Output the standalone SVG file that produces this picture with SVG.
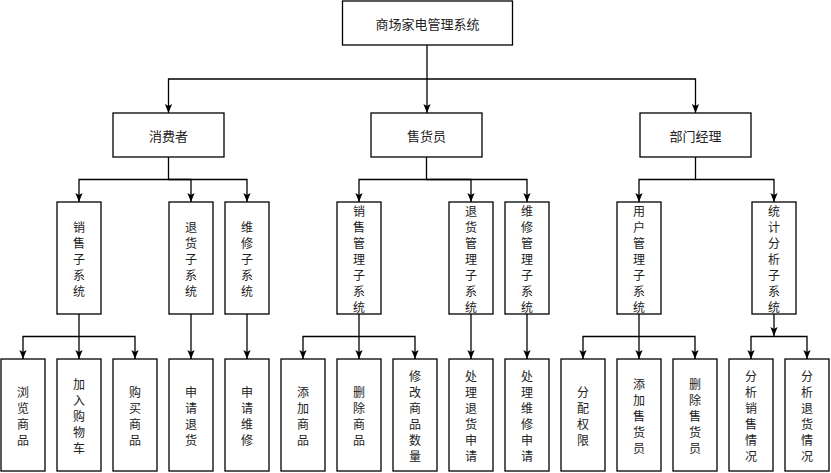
<svg xmlns="http://www.w3.org/2000/svg" width="831" height="473" viewBox="0 0 831 473">
<style>
.box{fill:#fff;stroke:#000;stroke-width:1.3}
.t{font-family:"Noto Sans CJK SC","Noto Sans",sans-serif;font-size:13px;fill:#222;text-anchor:middle;dominant-baseline:central}
.v{font-family:"Noto Sans CJK SC","Noto Sans",sans-serif;font-size:12px;fill:#222;text-anchor:middle;dominant-baseline:central}
.c{fill:none;stroke:#000;stroke-width:1.3}
.ar{marker-end:url(#a)}
</style>
<defs>
<marker id="a" markerWidth="10" markerHeight="8" refX="9" refY="4" orient="auto" markerUnits="userSpaceOnUse">
<path d="M0,0.4 L9,4 L0,7.6 L2,4 Z" fill="#000"/>
</marker>
</defs>
<rect width="831" height="473" fill="#fff"/>
<g id="connectors">
<path class="c ar" d="M427,45 V113"/>
<path class="c ar" d="M427,79 H168.5 V113"/>
<path class="c ar" d="M427,79 H695.5 V113"/>
<path class="c ar" d="M168.5,157 V179.5 H79 V202"/>
<path class="c ar" d="M168.5,179.5 H191 V202"/>
<path class="c ar" d="M168.5,179.5 H247 V202"/>
<path class="c ar" d="M426.5,157 V179.5 H359 V202"/>
<path class="c ar" d="M426.5,179.5 H471 V202"/>
<path class="c ar" d="M426.5,179.5 H527 V202"/>
<path class="c ar" d="M695.5,157 V179.5 H639 V202"/>
<path class="c ar" d="M695.5,179.5 H774 V202"/>
<path class="c ar" d="M79,314 V359"/>
<path class="c ar" d="M79,336.5 H23 V359"/>
<path class="c ar" d="M79,336.5 H135 V359"/>
<path class="c ar" d="M191,314 V359"/>
<path class="c ar" d="M247,314 V359"/>
<path class="c ar" d="M359,314 V359"/>
<path class="c ar" d="M359,336.5 H303 V359"/>
<path class="c ar" d="M359,336.5 H415 V359"/>
<path class="c ar" d="M471,314 V359"/>
<path class="c ar" d="M527,314 V359"/>
<path class="c ar" d="M639,314 V359"/>
<path class="c ar" d="M639,336.5 H583 V359"/>
<path class="c ar" d="M639,336.5 H695 V359"/>
<path class="c ar" d="M774,314 V336"/>
<path class="c ar" d="M774,336.5 H751 V359"/>
<path class="c ar" d="M774,336.5 H807 V359"/>
</g>
<g id="root"><rect class="box" x="342.5" y="1" width="170" height="44"/><text class="t" x="427.5" y="23">商场家电管理系统</text></g>
<g id="consumer"><rect class="box" x="113" y="113" width="111" height="44"/><text class="t" x="168.5" y="135">消费者</text></g>
<g id="clerk"><rect class="box" x="371" y="113" width="111" height="44"/><text class="t" x="426.5" y="135">售货员</text></g>
<g id="manager"><rect class="box" x="640" y="113" width="111" height="44"/><text class="t" x="695.5" y="135">部门经理</text></g>

<g id="sub-sales"><rect class="box" x="57" y="202" width="44" height="112"/><text class="v"><tspan x="79" y="226">销</tspan><tspan x="79" y="242">售</tspan><tspan x="79" y="258">子</tspan><tspan x="79" y="274">系</tspan><tspan x="79" y="290">统</tspan></text></g>
<g id="sub-return"><rect class="box" x="169" y="202" width="44" height="112"/><text class="v"><tspan x="191" y="226">退</tspan><tspan x="191" y="242">货</tspan><tspan x="191" y="258">子</tspan><tspan x="191" y="274">系</tspan><tspan x="191" y="290">统</tspan></text></g>
<g id="sub-repair"><rect class="box" x="225" y="202" width="44" height="112"/><text class="v"><tspan x="247" y="226">维</tspan><tspan x="247" y="242">修</tspan><tspan x="247" y="258">子</tspan><tspan x="247" y="274">系</tspan><tspan x="247" y="290">统</tspan></text></g>
<g id="sub-salesmgmt"><rect class="box" x="337" y="202" width="44" height="112"/><text class="v"><tspan x="359" y="210">销</tspan><tspan x="359" y="226">售</tspan><tspan x="359" y="242">管</tspan><tspan x="359" y="258">理</tspan><tspan x="359" y="274">子</tspan><tspan x="359" y="290">系</tspan><tspan x="359" y="306">统</tspan></text></g>
<g id="sub-returnmgmt"><rect class="box" x="449" y="202" width="44" height="112"/><text class="v"><tspan x="471" y="210">退</tspan><tspan x="471" y="226">货</tspan><tspan x="471" y="242">管</tspan><tspan x="471" y="258">理</tspan><tspan x="471" y="274">子</tspan><tspan x="471" y="290">系</tspan><tspan x="471" y="306">统</tspan></text></g>
<g id="sub-repairmgmt"><rect class="box" x="505" y="202" width="44" height="112"/><text class="v"><tspan x="527" y="210">维</tspan><tspan x="527" y="226">修</tspan><tspan x="527" y="242">管</tspan><tspan x="527" y="258">理</tspan><tspan x="527" y="274">子</tspan><tspan x="527" y="290">系</tspan><tspan x="527" y="306">统</tspan></text></g>
<g id="sub-usermgmt"><rect class="box" x="617" y="202" width="44" height="112"/><text class="v"><tspan x="639" y="210">用</tspan><tspan x="639" y="226">户</tspan><tspan x="639" y="242">管</tspan><tspan x="639" y="258">理</tspan><tspan x="639" y="274">子</tspan><tspan x="639" y="290">系</tspan><tspan x="639" y="306">统</tspan></text></g>
<g id="sub-stats"><rect class="box" x="752" y="202" width="44" height="112"/><text class="v"><tspan x="774" y="210">统</tspan><tspan x="774" y="226">计</tspan><tspan x="774" y="242">分</tspan><tspan x="774" y="258">析</tspan><tspan x="774" y="274">子</tspan><tspan x="774" y="290">系</tspan><tspan x="774" y="306">统</tspan></text></g>

<g id="leaf0"><rect class="box" x="1" y="359" width="44" height="112"/><text class="v"><tspan x="23" y="391">浏</tspan><tspan x="23" y="407">览</tspan><tspan x="23" y="423">商</tspan><tspan x="23" y="439">品</tspan></text></g>
<g id="leaf1"><rect class="box" x="57" y="359" width="44" height="112"/><text class="v"><tspan x="79" y="383">加</tspan><tspan x="79" y="399">入</tspan><tspan x="79" y="415">购</tspan><tspan x="79" y="431">物</tspan><tspan x="79" y="447">车</tspan></text></g>
<g id="leaf2"><rect class="box" x="113" y="359" width="44" height="112"/><text class="v"><tspan x="135" y="391">购</tspan><tspan x="135" y="407">买</tspan><tspan x="135" y="423">商</tspan><tspan x="135" y="439">品</tspan></text></g>
<g id="leaf3"><rect class="box" x="169" y="359" width="44" height="112"/><text class="v"><tspan x="191" y="391">申</tspan><tspan x="191" y="407">请</tspan><tspan x="191" y="423">退</tspan><tspan x="191" y="439">货</tspan></text></g>
<g id="leaf4"><rect class="box" x="225" y="359" width="44" height="112"/><text class="v"><tspan x="247" y="391">申</tspan><tspan x="247" y="407">请</tspan><tspan x="247" y="423">维</tspan><tspan x="247" y="439">修</tspan></text></g>
<g id="leaf5"><rect class="box" x="281" y="359" width="44" height="112"/><text class="v"><tspan x="303" y="391">添</tspan><tspan x="303" y="407">加</tspan><tspan x="303" y="423">商</tspan><tspan x="303" y="439">品</tspan></text></g>
<g id="leaf6"><rect class="box" x="337" y="359" width="44" height="112"/><text class="v"><tspan x="359" y="391">删</tspan><tspan x="359" y="407">除</tspan><tspan x="359" y="423">商</tspan><tspan x="359" y="439">品</tspan></text></g>
<g id="leaf7"><rect class="box" x="393" y="359" width="44" height="112"/><text class="v"><tspan x="415" y="375">修</tspan><tspan x="415" y="391">改</tspan><tspan x="415" y="407">商</tspan><tspan x="415" y="423">品</tspan><tspan x="415" y="439">数</tspan><tspan x="415" y="455">量</tspan></text></g>
<g id="leaf8"><rect class="box" x="449" y="359" width="44" height="112"/><text class="v"><tspan x="471" y="375">处</tspan><tspan x="471" y="391">理</tspan><tspan x="471" y="407">退</tspan><tspan x="471" y="423">货</tspan><tspan x="471" y="439">申</tspan><tspan x="471" y="455">请</tspan></text></g>
<g id="leaf9"><rect class="box" x="505" y="359" width="44" height="112"/><text class="v"><tspan x="527" y="375">处</tspan><tspan x="527" y="391">理</tspan><tspan x="527" y="407">维</tspan><tspan x="527" y="423">修</tspan><tspan x="527" y="439">申</tspan><tspan x="527" y="455">请</tspan></text></g>
<g id="leaf10"><rect class="box" x="561" y="359" width="44" height="112"/><text class="v"><tspan x="583" y="391">分</tspan><tspan x="583" y="407">配</tspan><tspan x="583" y="423">权</tspan><tspan x="583" y="439">限</tspan></text></g>
<g id="leaf11"><rect class="box" x="617" y="359" width="44" height="112"/><text class="v"><tspan x="639" y="383">添</tspan><tspan x="639" y="399">加</tspan><tspan x="639" y="415">售</tspan><tspan x="639" y="431">货</tspan><tspan x="639" y="447">员</tspan></text></g>
<g id="leaf12"><rect class="box" x="673" y="359" width="44" height="112"/><text class="v"><tspan x="695" y="383">删</tspan><tspan x="695" y="399">除</tspan><tspan x="695" y="415">售</tspan><tspan x="695" y="431">货</tspan><tspan x="695" y="447">员</tspan></text></g>
<g id="leaf13"><rect class="box" x="729" y="359" width="44" height="112"/><text class="v"><tspan x="751" y="375">分</tspan><tspan x="751" y="391">析</tspan><tspan x="751" y="407">销</tspan><tspan x="751" y="423">售</tspan><tspan x="751" y="439">情</tspan><tspan x="751" y="455">况</tspan></text></g>
<g id="leaf14"><rect class="box" x="785" y="359" width="44" height="112"/><text class="v"><tspan x="807" y="375">分</tspan><tspan x="807" y="391">析</tspan><tspan x="807" y="407">退</tspan><tspan x="807" y="423">货</tspan><tspan x="807" y="439">情</tspan><tspan x="807" y="455">况</tspan></text></g>
</svg>
